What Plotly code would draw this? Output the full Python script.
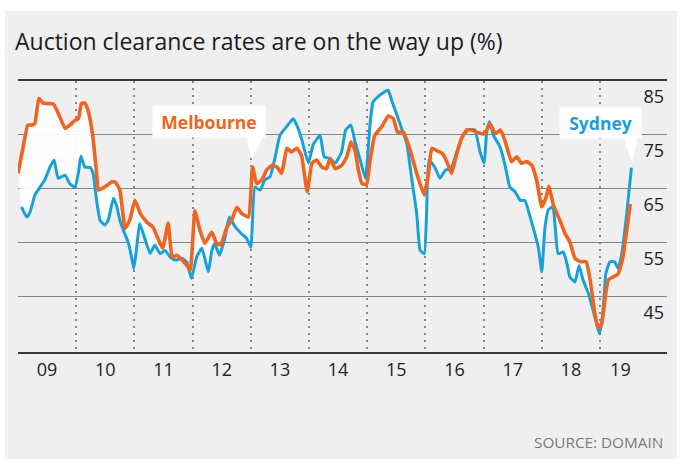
import plotly.graph_objects as go

# ---------------- data ----------------
title_text = "Auction clearance rates are on the way up (%)"
source_text = "SOURCE: DOMAIN"

year_labels = ["09", "10", "11", "12", "13", "14", "15", "16", "17", "18", "19"]
year_label_pos = [2009.5, 2010.5, 2011.5, 2012.5, 2013.5, 2014.5, 2015.5,
                  2016.5, 2017.5, 2018.5, 2019.35]
year_bounds = [2009, 2010, 2011, 2012, 2013, 2014, 2015, 2016, 2017, 2018, 2019]
y_tick_vals = [45, 55, 65, 75, 85]
y_grid_vals = [48, 58, 68, 78]

mel_t = [2009.00, 2009.09, 2009.17, 2009.24, 2009.29, 2009.36, 2009.43, 2009.52, 2009.61, 2009.69,
         2009.81, 2009.89, 2009.98, 2010.04, 2010.09, 2010.15, 2010.21, 2010.29, 2010.35, 2010.38,
         2010.49, 2010.61, 2010.67, 2010.75, 2010.84, 2010.92, 2011.01, 2011.10, 2011.22, 2011.32,
         2011.44, 2011.49, 2011.58, 2011.65, 2011.73, 2011.82, 2011.90, 2011.96, 2012.04, 2012.13,
         2012.21, 2012.33, 2012.41, 2012.48, 2012.59, 2012.67, 2012.76, 2012.84, 2012.96, 2013.03,
         2013.10, 2013.19, 2013.27, 2013.36, 2013.45, 2013.53, 2013.62, 2013.70, 2013.79, 2013.87,
         2013.97, 2014.05, 2014.13, 2014.22, 2014.30, 2014.36, 2014.45, 2014.56, 2014.65, 2014.72,
         2014.79, 2014.85, 2014.91, 2014.99, 2015.05, 2015.13, 2015.25, 2015.36, 2015.45, 2015.52,
         2015.62, 2015.74, 2015.85, 2015.98, 2016.05, 2016.11, 2016.19, 2016.29, 2016.38, 2016.45,
         2016.54, 2016.62, 2016.71, 2016.80, 2016.88, 2016.97, 2017.02, 2017.11, 2017.20, 2017.29,
         2017.38, 2017.48, 2017.57, 2017.65, 2017.74, 2017.83, 2017.91, 2018.00, 2018.07, 2018.12,
         2018.20, 2018.31, 2018.40, 2018.48, 2018.57, 2018.66, 2018.76, 2018.83, 2018.91, 2018.97,
         2019.03, 2019.09, 2019.14, 2019.23, 2019.31, 2019.39, 2019.46, 2019.52]
mel_v = [70.8, 75.8, 79.8, 79.8, 80.1, 84.8, 83.9, 83.8, 83.7, 82.0,
         79.2, 79.8, 80.7, 81.0, 83.8, 83.9, 82.3, 77.3, 70.8, 67.7,
         68.3, 69.2, 69.2, 67.7, 60.6, 62.1, 65.8, 63.4, 61.7, 60.8,
         57.8, 56.9, 61.6, 55.2, 55.6, 54.7, 53.7, 52.8, 63.8, 60.1,
         57.8, 59.9, 57.8, 57.5, 60.8, 62.1, 64.5, 63.4, 62.7, 72.0,
         68.9, 69.6, 71.4, 72.3, 72.0, 70.8, 75.5, 74.8, 75.5, 74.2,
         67.4, 72.7, 73.3, 72.0, 71.7, 73.6, 71.7, 72.3, 73.9, 76.7,
         75.1, 71.4, 68.9, 68.8, 73.3, 77.9, 79.5, 81.5, 81.0, 78.5,
         78.5, 75.1, 70.8, 66.8, 70.5, 75.5, 75.1, 74.5, 72.7, 70.8,
         74.5, 77.3, 78.9, 78.9, 78.5, 78.2, 78.2, 80.1, 78.2, 78.9,
         76.4, 73.0, 73.9, 72.7, 73.0, 72.3, 69.6, 64.6, 66.2, 68.4,
         64.9, 62.1, 59.6, 58.1, 55.0, 54.4, 54.4, 51.0, 44.8, 42.0,
         42.9, 47.8, 51.0, 51.6, 52.1, 55.0, 60.3, 65.1]

syd_t = [2009.06, 2009.15, 2009.21, 2009.29, 2009.38, 2009.46, 2009.55, 2009.62, 2009.69, 2009.81,
         2009.89, 2009.98, 2010.04, 2010.08, 2010.15, 2010.24, 2010.29, 2010.35, 2010.41, 2010.49,
         2010.55, 2010.64, 2010.70, 2010.75, 2010.81, 2010.90, 2010.95, 2010.99, 2011.04, 2011.09,
         2011.18, 2011.27, 2011.35, 2011.44, 2011.53, 2011.61, 2011.70, 2011.82, 2011.90, 2011.98,
         2012.07, 2012.16, 2012.27, 2012.33, 2012.38, 2012.46, 2012.56, 2012.63, 2012.73, 2012.84,
         2012.93, 2013.00, 2013.07, 2013.16, 2013.24, 2013.33, 2013.42, 2013.50, 2013.59, 2013.68,
         2013.73, 2013.79, 2013.87, 2013.99, 2014.07, 2014.19, 2014.26, 2014.36, 2014.45, 2014.56,
         2014.63, 2014.72, 2014.79, 2014.88, 2014.97, 2015.05, 2015.10, 2015.22, 2015.36, 2015.42,
         2015.51, 2015.59, 2015.68, 2015.76, 2015.85, 2015.91, 2015.98, 2016.02, 2016.06, 2016.16,
         2016.25, 2016.34, 2016.44, 2016.54, 2016.63, 2016.74, 2016.85, 2016.94, 2017.01, 2017.05,
         2017.10, 2017.17, 2017.28, 2017.37, 2017.45, 2017.54, 2017.63, 2017.71, 2017.80, 2017.88,
         2017.94, 2018.00, 2018.05, 2018.11, 2018.19, 2018.23, 2018.28, 2018.37, 2018.43, 2018.48,
         2018.57, 2018.64, 2018.71, 2018.80, 2018.88, 2018.94, 2018.99, 2019.05, 2019.10, 2019.17,
         2019.25, 2019.31, 2019.37, 2019.46, 2019.54]
syd_v = [64.6, 62.7, 63.7, 66.8, 68.3, 69.6, 72.0, 73.3, 69.9, 70.5,
         68.9, 68.3, 71.1, 74.0, 72.0, 71.9, 70.8, 65.8, 62.1, 61.2,
         62.1, 66.2, 64.6, 62.1, 60.3, 57.8, 55.3, 53.1, 57.1, 61.5,
         58.7, 55.9, 57.5, 55.9, 56.5, 55.3, 54.7, 55.0, 54.3, 51.3,
         55.3, 56.9, 52.5, 56.5, 57.8, 55.6, 59.0, 62.7, 60.9, 59.6,
         58.7, 57.1, 68.3, 67.7, 69.6, 70.2, 73.9, 77.9, 79.2, 80.4,
         81.0, 79.8, 77.3, 72.7, 76.1, 77.9, 73.9, 73.6, 72.7, 74.8,
         78.9, 79.8, 76.7, 73.3, 69.9, 80.1, 84.1, 85.4, 86.3, 84.4,
         81.7, 79.2, 76.4, 70.2, 63.4, 56.5, 55.9, 63.4, 73.3, 72.0,
         69.9, 71.4, 71.7, 74.8, 77.6, 78.9, 78.9, 74.8, 72.7, 78.2,
         80.4, 77.9, 75.8, 72.3, 68.3, 67.4, 65.8, 65.8, 62.7, 59.6,
         57.1, 52.5, 60.3, 64.0, 64.6, 60.9, 55.9, 56.2, 54.1, 51.6,
         50.6, 53.7, 51.0, 48.5, 45.4, 42.9, 41.0, 44.8, 52.2, 54.4,
         54.4, 53.1, 55.6, 63.4, 71.9]

# ---------------- style ----------------
ORANGE = "#ef6420"
BLUE = "#18a0d8"
BG = "#efeff0"
GRID = "#858585"
FONT = "Open Sans, Roboto, sans-serif"

W, H = 681, 459
ML, MR, MT, MB = 18, 14, 81, 107

fig = go.Figure()
fig.add_trace(go.Scatter(
    x=syd_t, y=syd_v, mode="lines", name="Sydney", hoverinfo="skip",
    line=dict(color=BLUE, width=3, shape="spline", smoothing=0.4),
))
fig.add_trace(go.Scatter(
    x=mel_t, y=mel_v, mode="lines", name="Melbourne", hoverinfo="skip",
    fill="tonexty", fillcolor="rgba(255,255,255,0.93)",
    line=dict(color=ORANGE, width=3.6, shape="spline", smoothing=0.4),
))

plot_w = W - ML - MR
plot_h = H - MT - MB


def px_x(p):
    return (p - ML) / plot_w


def px_y(p):
    return (H - MB - p) / plot_h


shapes = [
    # white page margins around the grey panel
    dict(type="rect", xref="paper", yref="paper", x0=-0.05, x1=1.05,
         y0=px_y(11), y1=px_y(-5), fillcolor="white", line=dict(width=0), layer="above"),
    dict(type="rect", xref="paper", yref="paper", x0=px_x(-5), x1=px_x(5),
         y0=px_y(470), y1=px_y(-5), fillcolor="white", line=dict(width=0), layer="above"),
    dict(type="rect", xref="paper", yref="paper", x0=px_x(677), x1=px_x(690),
         y0=px_y(470), y1=px_y(-5), fillcolor="white", line=dict(width=0), layer="above"),
    # call-out pointers of the labels
    dict(type="path", xref="x", yref="y",
         path="M 2012.92 78.2 L 2013.245 78.2 L 2013.01 73.5 Z",
         fillcolor="white", line=dict(width=0), layer="above"),
    dict(type="path", xref="x", yref="y",
         path="M 2019.38 78.2 L 2019.66 78.2 L 2019.55 72.8 Z",
         fillcolor="white", line=dict(width=0), layer="above"),
]

annotations = [
    dict(text="<b>Melbourne</b>", x=2012.28, y=80.44, xref="x", yref="y",
         showarrow=False, bgcolor="white", width=104, height=23, borderpad=4,
         font=dict(family=FONT, size=17.5, color=ORANGE)),
    dict(text="<b>Sydney</b>", x=2019.0, y=80.16, xref="x", yref="y",
         showarrow=False, bgcolor="white", width=73, height=22, borderpad=4,
         font=dict(family=FONT, size=17.5, color=BLUE)),
    dict(text=source_text, xref="paper", yref="paper", x=px_x(665), y=px_y(442),
         xanchor="right", yanchor="middle", showarrow=False,
         font=dict(family=FONT, size=15.3, color="#7a7a7a")),
]

fig.update_layout(
    width=W, height=H,
    margin=dict(l=ML, r=MR, t=MT, b=MB, pad=0),
    paper_bgcolor=BG, plot_bgcolor=BG,
    showlegend=False,
    title=dict(text=title_text, xref="container", yref="container",
               x=15 / W, xanchor="left", y=1 - 42 / H, yanchor="middle",
               font=dict(family=FONT, size=23, color="#1c1c1c")),
    xaxis=dict(
        range=[2009.0, 2020.151], showline=True, linecolor="#3a3a3a", linewidth=2,
        mirror=True, tickmode="array", tickvals=year_label_pos, ticktext=year_labels,
        ticks="", showgrid=False, zeroline=False,
        tickfont=dict(family=FONT, size=18, color="#222222"),
        minor=dict(tickmode="array", tickvals=year_bounds, showgrid=True,
                   gridcolor=GRID, griddash="2px,5px", gridwidth=1.5, ticks=""),
    ),
    yaxis=dict(
        range=[37.6, 88.0], side="right", tickmode="array", tickvals=y_tick_vals,
        ticklabelposition="inside", ticks="", showgrid=False, zeroline=False,
        showline=False, tickfont=dict(family=FONT, size=18, color="#222222"),
        minor=dict(tickmode="array", tickvals=y_grid_vals, showgrid=True,
                   gridcolor=GRID, gridwidth=1.3, ticks=""),
    ),
    shapes=shapes,
    annotations=annotations,
)

fig.write_html("out.html", config={"displayModeBar": False},
               post_script="document.body.style.margin='0';")
